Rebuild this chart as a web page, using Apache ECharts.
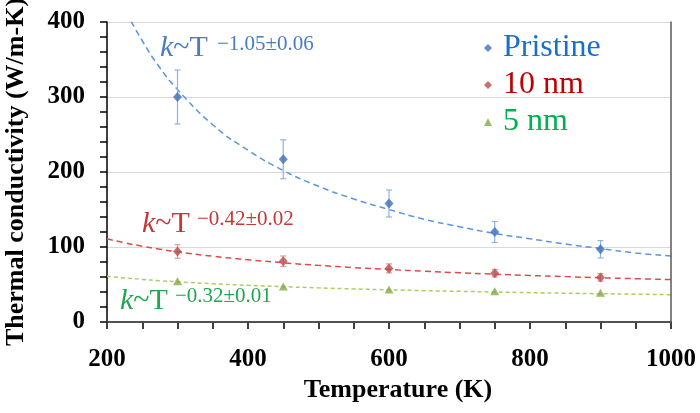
<!DOCTYPE html>
<html><head><meta charset="utf-8">
<script src="https://cdn.jsdelivr.net/npm/echarts@6/dist/echarts.min.js"></script>
<style>html,body{margin:0;padding:0;background:#fff}#c{width:700px;height:413px}</style>
</head><body><div id="c"></div>
<script>
// Measured data
const temps = [300, 450, 600, 750, 900];
const pristine = [300, 217, 158, 120, 97];
const pristineErr = [36, 26, 18, 14, 11.5];
const nm10 = [94, 81, 71.5, 65, 59.5];
const nm10Err = [9, 7, 6, 5, 5];
const nm5 = [54.5, 47.5, 43.5, 41, 39];
// Fit curves
const fitT = [200,225,250,275,300,350,400,450,500,550,600,650,700,750,800,850,900,950,1000];
const fitPristine = [474,419,375,339,310,263,229,202,181,164,150,137,127,118,111,104,98,92,88];
const fit10 = [111,105.6,101.1,97.1,93.6,87.7,83.0,79.0,75.5,72.6,70.0,67.7,65.6,63.7,62.0,60.5,59.0,57.7,56.5];
const fit5 = [61,58.7,56.8,55.1,53.6,51.0,48.9,47.1,45.5,44.1,42.9,41.8,40.9,40.0,39.1,38.4,37.7,37.1,36.4];
const seriesNames = ['Pristine', '10 nm', '5 nm'];
const xTicks = [200, 400, 600, 800, 1000];
const yTicks = [0, 100, 200, 300, 400];

const FONT = '"Liberation Serif", "Times New Roman", serif';
const zip = (a, b) => a.map((v, i) => [v, b[i]]);
const errData = (v, e) => temps.map((t, i) => [t, v[i] - e[i], v[i] + e[i]]);

function errRender(color) {
  return function (params, api) {
    const x = api.value(0);
    const p1 = api.coord([x, api.value(1)]);
    const p2 = api.coord([x, api.value(2)]);
    const w = 3;
    const st = { stroke: color, lineWidth: 1.2 };
    return { type: 'group', children: [
      { type: 'line', shape: { x1: p1[0], y1: p1[1], x2: p2[0], y2: p2[1] }, style: st },
      { type: 'line', shape: { x1: p1[0] - w, y1: p1[1], x2: p1[0] + w, y2: p1[1] }, style: st },
      { type: 'line', shape: { x1: p2[0] - w, y1: p2[1], x2: p2[0] + w, y2: p2[1] }, style: st }
    ]};
  };
}

const chart = echarts.init(document.getElementById('c'), null, { renderer: 'canvas' });
const axisLabelStyle = { fontFamily: FONT, fontWeight: 'bold', fontSize: 25, color: '#000', formatter: v => String(v) };
chart.setOption({
  animation: false,
  grid: { left: 107, right: 29, top: 22, bottom: 91, show: false, containLabel: false, outerBoundsMode: 'none' },
  legend: {
    orient: 'vertical', left: 479, top: 27, itemGap: 5, itemWidth: 8, itemHeight: 8,
    textStyle: { fontFamily: FONT, fontSize: 32, padding: [0, 0, 0, 6] },
    data: [
      { name: seriesNames[0], icon: 'diamond', textStyle: { color: '#1a6fc8' } },
      { name: seriesNames[1], icon: 'diamond', textStyle: { color: '#c00000' } },
      { name: seriesNames[2], icon: 'triangle', textStyle: { color: '#00b050' } }
    ]
  },
  xAxis: [{
    type: 'value', min: xTicks[0], max: xTicks[xTicks.length - 1], interval: 200,
    name: 'Temperature (K)', nameLocation: 'middle', nameGap: 55,
    nameTextStyle: { fontFamily: FONT, fontWeight: 'bold', fontSize: 26, color: '#000', padding: [0, 0, 0, 18] },
    axisLine: { lineStyle: { color: '#000', width: 1.5 } },
    axisTick: { show: true, inside: false, length: 7, lineStyle: { color: '#000', width: 1.5 } },
    minorTick: { show: true, splitNumber: 4, length: 7, lineStyle: { color: '#000', width: 1.5 } },
    axisLabel: Object.assign({ margin: 25 }, axisLabelStyle),
    splitLine: { show: false }
  }, {
    type: 'value', position: 'top', min: 200, max: 1000, z: 5,
    axisLine: { show: true, lineStyle: { color: '#595959', width: 1.5 } },
    axisTick: { show: false }, axisLabel: { show: false }, splitLine: { show: false }
  }],
  yAxis: [{
    type: 'value', min: yTicks[0], max: yTicks[yTicks.length - 1], interval: 100,
    name: 'Thermal conductivity (W/m-K)', nameLocation: 'middle', nameGap: 78,
    nameTextStyle: { fontFamily: FONT, fontWeight: 'bold', fontSize: 26, color: '#000' },
    axisLine: { show: true, lineStyle: { color: '#000', width: 1.5 } },
    axisTick: { show: true, inside: false, length: 7, lineStyle: { color: '#000', width: 1.5 } },
    minorTick: { show: true, splitNumber: 5, length: 7, lineStyle: { color: '#000', width: 1.5 } },
    axisLabel: Object.assign({ margin: 22 }, axisLabelStyle),
    splitLine: { show: true, lineStyle: { color: '#d9d9d9', width: 1 } }
  }, {
    type: 'value', position: 'right', min: 0, max: 400, z: 5,
    axisLine: { show: true, lineStyle: { color: '#595959', width: 1.5 } },
    axisTick: { show: false }, axisLabel: { show: false }, splitLine: { show: false }
  }],
  series: [
    { name: 'fitP', type: 'line', data: zip(fitT, fitPristine), smooth: true, showSymbol: false, clip: true,
      lineStyle: { color: '#5a96e0', width: 1.5, type: [6, 4] }, z: 2, silent: true },
    { name: 'fit10', type: 'line', data: zip(fitT, fit10), smooth: true, showSymbol: false, clip: true,
      lineStyle: { color: '#dc4c4c', width: 1.5, type: [6, 4] }, z: 2, silent: true },
    { name: 'fit5', type: 'line', data: zip(fitT, fit5), smooth: true, showSymbol: false, clip: true,
      lineStyle: { color: '#a9d060', width: 1.5, type: [4, 3] }, z: 2, silent: true },
    { type: 'custom', renderItem: errRender('#8fb2e0'), data: errData(pristine, pristineErr), z: 3, silent: true },
    { type: 'custom', renderItem: errRender('#e09a9a'), data: errData(nm10, nm10Err), z: 3, silent: true },
    { name: seriesNames[0], type: 'scatter', data: zip(temps, pristine), symbol: 'diamond', symbolSize: [9, 10],
      itemStyle: { color: '#3d6fb6' }, z: 4 },
    { name: seriesNames[1], type: 'scatter', data: zip(temps, nm10), symbol: 'diamond', symbolSize: [9, 10],
      itemStyle: { color: '#b84c4c' }, z: 4 },
    { name: seriesNames[2], type: 'scatter', data: zip(temps, nm5), symbol: 'triangle', symbolSize: [9, 8],
      itemStyle: { color: '#84a846' }, z: 4 }
  ],
  graphic: [
    { type: 'text', left: 160, top: 33, style: { text: '{i|k}~T', fill: '#4a7cc6', font: '30px ' + FONT,
      rich: { i: { fontStyle: 'italic', fontSize: 30, fontFamily: FONT, fill: '#4a7cc6' } } } },
    { type: 'text', left: 217, top: 34, style: { text: '\u22121.05\u00b10.06', fill: '#4a7cc6', font: '21px ' + FONT } },
    { type: 'text', left: 142, top: 209, style: { text: '{i|k}~T', fill: '#c53838', font: '30px ' + FONT,
      rich: { i: { fontStyle: 'italic', fontSize: 30, fontFamily: FONT, fill: '#c53838' } } } },
    { type: 'text', left: 197, top: 209, style: { text: '\u22120.42\u00b10.02', fill: '#c53838', font: '21px ' + FONT } },
    { type: 'text', left: 120, top: 286, style: { text: '{i|k}~T', fill: '#22a54c', font: '30px ' + FONT,
      rich: { i: { fontStyle: 'italic', fontSize: 30, fontFamily: FONT, fill: '#22a54c' } } } },
    { type: 'text', left: 175, top: 286, style: { text: '\u22120.32\u00b10.01', fill: '#22a54c', font: '21px ' + FONT } }
  ]
});
</script></body></html>
